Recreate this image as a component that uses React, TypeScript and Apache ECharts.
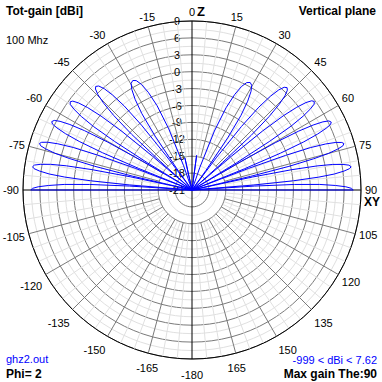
import React, { useEffect, useRef } from 'react';
import * as echarts from 'echarts';

// Radial scale (dBi) and angle scale (degrees)
const DB_MIN = -21;
const DB_MAX = 9;
const DB_STEP = 3;
const ANGLE_STEP = 15;
const SPOKE_INNER_DB = -15;

// Tot-gain pattern, vertical plane: [theta (deg), gain (dBi)]
const lobesLeft: number[][] = [
  [-90, -21], [-90, 7.62], [-89.4, 7.3], [-88.8, 6.3], [-88.2, 4.5], [-87.5, 1.7], [-86.9, -2.8], [-86.4, -9.9], [-85.9, -21],
  [-85.4, -9.9], [-84.8, -2.9], [-84.2, 1.7], [-83.6, 4.5], [-82.9, 6.3], [-82.3, 7.3], [-81.7, 7.6], [-81.0, 7.3], [-80.4, 6.3], [-79.7, 4.5], [-79.1, 1.7], [-78.5, -2.9], [-77.9, -9.9], [-77.4, -21],
  [-76.9, -10.2], [-76.3, -3.2], [-75.6, 1.4], [-75.0, 4.2], [-74.3, 6.0], [-73.7, 7.0], [-73.0, 7.3], [-72.4, 7.0], [-71.7, 6.0], [-71.0, 4.2], [-70.3, 1.4], [-69.7, -3.2], [-69.1, -10.2], [-68.6, -21],
  [-68.0, -10.8], [-67.4, -3.8], [-66.7, 0.8], [-66.0, 3.6], [-65.3, 5.4], [-64.7, 6.4], [-64.0, 6.7], [-63.2, 6.4], [-62.5, 5.4], [-61.8, 3.6], [-61.1, 0.8], [-60.4, -3.8], [-59.8, -10.8], [-59.2, -21],
  [-58.6, -11.8], [-57.9, -4.8], [-57.2, -0.2], [-56.4, 2.6], [-55.6, 4.4], [-54.9, 5.4], [-54.1, 5.7], [-53.3, 5.4], [-52.5, 4.4], [-51.7, 2.6], [-50.9, -0.2], [-50.1, -4.8], [-49.4, -11.8], [-48.7, -21],
  [-48.0, -13.4], [-47.3, -6.4], [-46.4, -1.8], [-45.5, 1.0], [-44.6, 2.8], [-43.7, 3.8], [-42.9, 4.1], [-41.9, 3.8], [-40.9, 2.8], [-39.9, 1.0], [-38.9, -1.8], [-37.9, -6.4], [-37.0, -13.4], [-36.25, -21],
  [-35.4, -16.4], [-34.4, -9.4], [-33.3, -4.8], [-32.1, -2.0], [-30.9, -0.2], [-29.7, 0.8], [-28.4, 1.1], [-27.0, 0.8], [-25.6, -0.2], [-24.1, -2.0], [-22.5, -4.8], [-20.8, -9.4], [-19.1, -16.4], [-17.5, -21],
];
const zenithSpikes: number[][] = [
  [-14.5, -21], [-12.5, -15.2], [-10.5, -21], [0, -21], [5.5, -21], [7.6, -14.8], [9.8, -21],
];
const lobesRight: number[][] = [
  [17.5, -21], [19.1, -16.8], [20.8, -9.8], [22.5, -5.2], [24.1, -2.4], [25.6, -0.6], [27.0, 0.4], [28.4, 0.7], [29.7, 0.4], [30.9, -0.6], [32.1, -2.4], [33.3, -5.2], [34.4, -9.8], [35.4, -16.8], [36.25, -21],
  [37.0, -13.7], [37.9, -6.7], [38.9, -2.1], [39.9, 0.7], [40.9, 2.5], [41.9, 3.5], [42.9, 3.8], [43.7, 3.5], [44.6, 2.5], [45.5, 0.7], [46.4, -2.1], [47.3, -6.7], [48.0, -13.7], [48.7, -21],
  [49.4, -11.7], [50.1, -4.7], [50.9, -0.1], [51.7, 2.7], [52.5, 4.5], [53.3, 5.5], [54.1, 5.8], [54.9, 5.5], [55.6, 4.5], [56.4, 2.7], [57.2, -0.1], [57.9, -4.7], [58.6, -11.7], [59.2, -21],
  [59.8, -11.0], [60.4, -4.0], [61.1, 0.6], [61.8, 3.4], [62.5, 5.2], [63.2, 6.2], [64.0, 6.5], [64.7, 6.2], [65.3, 5.2], [66.0, 3.4], [66.7, 0.6], [67.4, -4.0], [68.0, -11.0], [68.6, -21],
  [69.1, -10.3], [69.7, -3.3], [70.3, 1.3], [71.0, 4.1], [71.7, 5.9], [72.4, 6.9], [73.0, 7.2], [73.7, 6.9], [74.3, 5.9], [75.0, 4.1], [75.6, 1.3], [76.3, -3.3], [76.9, -10.3], [77.4, -21],
  [77.9, -10.0], [78.5, -2.9], [79.1, 1.6], [79.7, 4.4], [80.4, 6.2], [81.0, 7.2], [81.7, 7.55], [82.3, 7.2], [82.9, 6.2], [83.6, 4.4], [84.2, 1.6], [84.8, -2.9], [85.4, -10.0], [85.9, -21],
  [86.4, -9.9], [86.9, -2.8], [87.5, 1.7], [88.2, 4.5], [88.8, 6.3], [89.4, 7.3], [90, 7.62], [90, -21],
];

const FONT = '"Liberation Sans", Arial, sans-serif';

const toPolar = (pts: number[][]) => pts.map(([a, d]) => [d, a < 0 ? a + 360 : a]);

export default function App() {
  const ref = useRef<HTMLDivElement>(null);
  useEffect(() => {
    if (!ref.current) return;
    const chart = echarts.init(ref.current, null, { renderer: 'svg' });

    const majorSpokes: any[] = [];
    const minorSpokes: any[] = [];
    for (let a = 0; a < 360; a += 5) {
      if (a % 90 === 0) continue;
      if (a % ANGLE_STEP === 0) {
        majorSpokes.push([SPOKE_INNER_DB, a], [DB_MAX, a], null);
      } else {
        minorSpokes.push([SPOKE_INNER_DB, a], [DB_MAX, a], null);
      }
    }
    const axesLines: any[] = [[DB_MAX, 0], [DB_MAX, 180], null, [DB_MAX, 90], [DB_MAX, 270]];

    const pattern = toPolar([...lobesLeft, ...zenithSpikes, ...lobesRight]);

    chart.setOption({
      animation: false,
      backgroundColor: '#ffffff',
      polar: { center: [192, 190], radius: 169 },
      angleAxis: {
        type: 'value', min: 0, max: 360, interval: ANGLE_STEP, startAngle: 90, clockwise: true,
        axisLine: { lineStyle: { color: '#000', width: 1 } },
        axisTick: { show: false },
        axisLabel: {
          margin: 4, color: '#000', fontSize: 11, fontFamily: FONT,
          formatter: (v: number) => {
            const t = String(v >= 180 ? v - 360 : v);
            if (v === 180) return `{f|${t}}`;
            if (v >= 135 && v <= 225) return `{l|${t}}`;
            if (v > 225 && v < 270) return `{s|${t}}`;
            return t;
          },
          rich: {
            f: { fontSize: 11, fontFamily: FONT, color: '#000', padding: [6, 0, 0, 0] },
            l: { fontSize: 11, fontFamily: FONT, color: '#000', padding: [5, 0, 0, 0] },
            s: { fontSize: 11, fontFamily: FONT, color: '#000', padding: [4, 0, 0, 0] },
          },
        },
        splitLine: { show: false },
      },
      radiusAxis: {
        type: 'value', min: DB_MIN, max: DB_MAX, interval: DB_STEP,
        axisLine: { show: false }, axisTick: { show: false },
        axisLabel: {
          color: '#000', fontSize: 11, fontFamily: FONT, margin: 15, align: 'center',
          padding: [5, 0, 0, 0], showMinLabel: true, showMaxLabel: true,
        },
        splitLine: { show: true, lineStyle: { color: '#7a7a7a', width: 1 } },
        minorTick: { show: false, splitNumber: 2 },
        minorSplitLine: { show: true, lineStyle: { color: '#e0e0e0', width: 1 } },
      },
      series: [
        { type: 'line', coordinateSystem: 'polar', data: minorSpokes, symbol: 'none', silent: true, z: 1,
          lineStyle: { color: '#e0e0e0', width: 1 } },
        { type: 'line', coordinateSystem: 'polar', data: majorSpokes, symbol: 'none', silent: true, z: 2,
          lineStyle: { color: '#7a7a7a', width: 1 } },
        { type: 'line', coordinateSystem: 'polar', data: axesLines, symbol: 'none', silent: true, z: 3,
          lineStyle: { color: '#000', width: 1 } },
        { type: 'line', coordinateSystem: 'polar', data: pattern, symbol: 'none', z: 5,
          lineStyle: { color: '#0000ff', width: 1 } },
      ],
      graphic: [
        { type: 'text', left: 6, top: 5, style: { text: 'Tot-gain [dBi]', font: `bold 12px ${FONT}`, fill: '#000' } },
        { type: 'text', left: 6, top: 34, style: { text: '100 Mhz', font: `11px ${FONT}`, fill: '#000' } },
        { type: 'text', right: 6, top: 5, style: { text: 'Vertical plane', font: `bold 12px ${FONT}`, fill: '#000' } },
        { type: 'text', left: 197, top: 5, style: { text: 'Z', font: `bold 13px ${FONT}`, fill: '#000' } },
        { type: 'text', left: 364, top: 196, style: { text: 'XY', font: `bold 12px ${FONT}`, fill: '#000' } },
        { type: 'text', left: 6, top: 353, style: { text: 'ghz2.out', font: `11px ${FONT}`, fill: '#0000ff' } },
        { type: 'text', left: 6, top: 368, style: { text: 'Phi= 2', font: `bold 12px ${FONT}`, fill: '#000' } },
        { type: 'text', right: 5, top: 354, style: { text: '-999 < dBi < 7.62', font: `11px ${FONT}`, fill: '#0000ff' } },
        { type: 'text', right: 5, top: 368, style: { text: 'Max gain The:90', font: `bold 12px ${FONT}`, fill: '#000' } },
      ],
    });
    return () => chart.dispose();
  }, []);
  return <div ref={ref} style={{ position: 'absolute', left: 0, top: 0, width: 382, height: 382 }} />;
}
